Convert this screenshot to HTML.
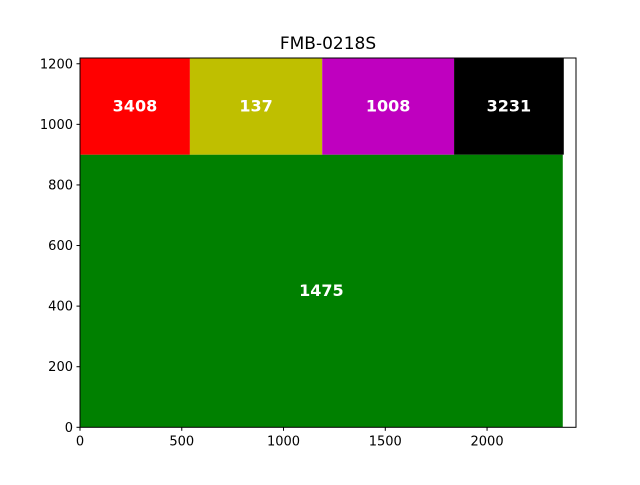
<!DOCTYPE html>
<html><head><meta charset="utf-8"><style>
body{margin:0;background:#fff;}
svg text{font-family:"DejaVu Sans","Liberation Sans",sans-serif;}
</style></head><body>
<svg width="640" height="480" xmlns="http://www.w3.org/2000/svg">
<rect width="640" height="480" fill="#fff"/>
<text x="328" y="49" text-anchor="middle" font-size="17">FMB-0218S</text>
<g id="marks"></g>
<g id="axes"></g>
</svg>
<script>
const labels=["1475","3408","137","1008","3231"];
const x0s=[0,0,540,1190,1838];
const x1s=[2372,540,1190,1838,2377];
const y0s=[0,900,900,900,900];
const y1s=[900,1219,1219,1219,1219];
const colors=["#008000","#ff0000","#bfbf00","#bf00bf","#000000"];
const xTicks=[0,500,1000,1500,2000];
const yTicks=[0,200,400,600,800,1000,1200];
const L=80,R=576,T=58,B=427.3,XMAX=2437,YMAX=1219;
const sx=v=>L+v/XMAX*(R-L);
const sy=v=>B-v/YMAX*(B-T);
const NS="http://www.w3.org/2000/svg";
const marks=document.getElementById('marks'),axes=document.getElementById('axes');
function mk(tag,attrs,parent){const e=document.createElementNS(NS,tag);for(const k in attrs)e.setAttribute(k,attrs[k]);parent.appendChild(e);return e;}
for(let i=0;i<labels.length;i++){
  const r=mk('rect',{x:sx(x0s[i]),y:sy(y1s[i]),width:sx(x1s[i])-sx(x0s[i]),height:sy(y0s[i])-sy(y1s[i]),fill:colors[i]},marks);
  
  
  const t=mk('text',{x:(sx(x0s[i])+sx(x1s[i]))/2,y:(sy(y0s[i])+sy(y1s[i]))/2+5,'text-anchor':'middle','font-size':'16','font-weight':'bold',fill:'#fff'},marks);
  t.textContent=labels[i];
  
  
}
const frame=mk('rect',{x:L,y:T,width:R-L,height:B-T,fill:'none',stroke:'#000','stroke-width':1},axes);


xTicks.forEach(v=>{
  const x=sx(v);
  mk('line',{x1:x,x2:x,y1:B,y2:B+3.5,stroke:'#000'},axes);
  const t=mk('text',{x:x,y:B+18,'text-anchor':'middle','font-size':'13'},axes);
  t.textContent=v;
  
  
});
yTicks.forEach(v=>{
  const y=sy(v);
  mk('line',{x1:L-3.5,x2:L,y1:y,y2:y,stroke:'#000'},axes);
  const t=mk('text',{x:L-7,y:y+4.5,'text-anchor':'end','font-size':'13'},axes);
  t.textContent=v;
  
  
});
</script>
</body></html>
